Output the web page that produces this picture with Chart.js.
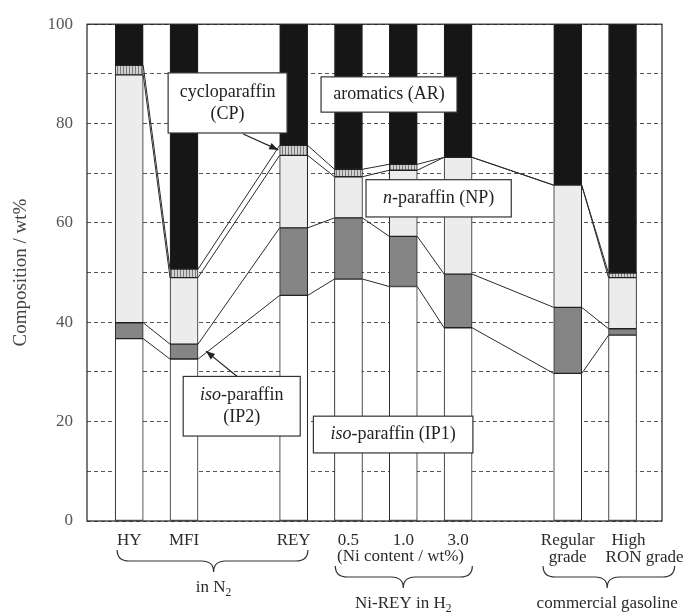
<!DOCTYPE html>
<html><head><meta charset="utf-8">
<script src="https://cdn.jsdelivr.net/npm/chart.js@4.4.0/dist/chart.umd.min.js"></script>
<style>html,body{margin:0;padding:0;background:#fff;}#wrap{width:690px;height:615px;position:relative;}</style>
</head><body><div id="wrap"><canvas id="c" width="690" height="615"></canvas></div>
<script>
// ---- data ----
const slots = ['HY','MFI','','REY','0.5','1.0','3.0','','Regular grade','High RON grade'];
const slotLines = [['HY'],['MFI'],[],['REY'],['0.5'],['1.0'],['3.0'],[],['Regular','grade'],['High','RON grade']];
const IP1 = [36.7, 32.6, null, 45.4, 48.7, 47.2, 38.9, null, 29.7, 37.4];
const IP2 = [3.2, 3.0, null, 13.6, 12.3, 10.1, 10.8, null, 13.3, 1.3];
const NP  = [49.9, 13.4, null, 14.6, 8.3, 13.3, 23.5, null, 24.6, 10.3];
const CP  = [1.9, 1.7, null, 2.0, 1.5, 1.2, 0, null, 0, 0.9];
const AR  = [8.3, 49.3, null, 24.4, 29.2, 28.2, 26.8, null, 32.4, 50.1];
const yTickLabels = [0, 20, 40, 60, 80, 100];
const seriesNames = ['iso-paraffin (IP1)','iso-paraffin (IP2)','n-paraffin (NP)','cycloparaffin (CP)','aromatics (AR)'];
const groups = [
  {from: -0.22, to: 3.26, tip: 1.54, text: [['in N', false], ['2', 'sub']]},
  {from: 3.76, to: 6.26, tip: 5.0, text: [['Ni-REY in H', false], ['2', 'sub']], note: '(Ni content / wt%)'},
  {from: 7.55, to: 9.95, tip: 8.72, text: [['commercial gasoline', false]]}
];
// annotation boxes in data units
const boxes = [
  {x1: 0.71, x2: 2.88, y1: 90.2, y2: 78.1, lines: [[['cycloparaffin', false]], [['(CP)', false]]], arrow: [2.08, 77.9, 2.72, 74.7]},
  {x1: 3.50, x2: 5.98, y1: 89.4, y2: 82.3, lines: [[['aromatics (AR)', false]]]},
  {x1: 4.32, x2: 6.97, y1: 68.7, y2: 61.2, lines: [[['n', true], ['-paraffin (NP)', false]]]},
  {x1: 0.985, x2: 3.12, y1: 29.1, y2: 17.1, lines: [[['iso', true], ['-paraffin', false]], [['(IP2)', false]]], arrow: [1.97, 29.1, 1.40, 34.2]},
  {x1: 3.36, x2: 6.27, y1: 21.1, y2: 13.7, lines: [[['iso', true], ['-paraffin (IP1)', false]]]}
];

const SERIF = '"Liberation Serif", "DejaVu Serif", serif';
function mkPattern() {
  const c = document.createElement('canvas'); c.width = 3; c.height = 4;
  const g = c.getContext('2d');
  g.fillStyle = '#d0d0d0'; g.fillRect(0,0,3,4);
  g.fillStyle = '#7a7a7a'; g.fillRect(0,0,1,4);
  return document.getElementById('c').getContext('2d').createPattern(c, 'repeat');
}
const cpFill = mkPattern();
const fills = ['#ffffff', '#858585', '#ececec', cpFill, '#161616'];
const series = [IP1, IP2, NP, CP, AR];

const datasets = series.map((arr, k) => ({
  label: seriesNames[k],
  data: arr.map((v, i) => ({x: i, y: v})),
  backgroundColor: fills[k],
  borderColor: '#222',
  borderWidth: 1,
  borderSkipped: false,
  barThickness: 28
}));

function richText(ctx, parts, cx, cy, size, align) {
  let w = 0;
  const segs = parts.map(([t, st]) => {
    const fs = st === 'sub' ? size * 0.68 : size;
    const f = (st === true ? 'italic ' : '') + fs + 'px ' + SERIF;
    ctx.font = f; const mw = ctx.measureText(t).width; w += mw;
    return {t, f, mw, dy: st === 'sub' ? size * 0.3 : 0};
  });
  let x = align === 'left' ? cx : cx - w / 2;
  ctx.textAlign = 'left'; ctx.textBaseline = 'middle';
  segs.forEach(s => { ctx.font = s.f; ctx.fillText(s.t, x, cy + s.dy); x += s.mw; });
}

function brace(ctx, x1, x2, xm, y, h) {
  const m = y + h * 0.5, r = 12;
  ctx.beginPath();
  ctx.moveTo(x1, y);
  ctx.quadraticCurveTo(x1, m, x1 + r, m);
  ctx.lineTo(xm - r, m);
  ctx.quadraticCurveTo(xm, m, xm, y + h);
  ctx.quadraticCurveTo(xm, m, xm + r, m);
  ctx.lineTo(x2 - r, m);
  ctx.quadraticCurveTo(x2, m, x2, y);
  ctx.stroke();
}

const overlay = {
  id: 'overlay',
  afterDatasetsDraw(chart) {
    const ctx = chart.ctx, xs = chart.scales.x, ys = chart.scales.y, ca = chart.chartArea;
    const meta0 = chart.getDatasetMeta(0);
    ctx.save();
    const present = slots.map((s, i) => i).filter(i => IP1[i] !== null);
    ctx.strokeStyle = '#2a2a2a'; ctx.lineWidth = 1;
    for (let p = 0; p < present.length - 1; p++) {
      const i = present[p], j = present[p + 1];
      const ei = meta0.data[i], ej = meta0.data[j];
      const xa = ei.x + ei.width / 2, xb = ej.x - ej.width / 2;
      let ci = 0, cj = 0;
      for (let k = 0; k < 4; k++) {
        ci += series[k][i]; cj += series[k][j];
        ctx.beginPath();
        ctx.moveTo(xa, ys.getPixelForValue(ci));
        ctx.lineTo(xb, ys.getPixelForValue(cj));
        ctx.stroke();
      }
    }
    ctx.strokeStyle = '#222'; ctx.lineWidth = 1.2;
    ctx.strokeRect(ca.left, ca.top, ca.right - ca.left, ca.bottom - ca.top);
    boxes.forEach(b => {
      const x1 = xs.getPixelForValue(b.x1), x2 = xs.getPixelForValue(b.x2);
      const y1 = ys.getPixelForValue(b.y1), y2 = ys.getPixelForValue(b.y2);
      ctx.fillStyle = '#fff'; ctx.fillRect(x1, y1, x2 - x1, y2 - y1);
      ctx.strokeStyle = '#333'; ctx.lineWidth = 1.2; ctx.strokeRect(x1, y1, x2 - x1, y2 - y1);
      ctx.fillStyle = '#222';
      const n = b.lines.length, lh = 22, cy = (y1 + y2) / 2;
      b.lines.forEach((ln, li) => richText(ctx, ln, (x1 + x2) / 2, cy + (li - (n - 1) / 2) * lh, 18));
      if (b.arrow) {
        const ax = xs.getPixelForValue(b.arrow[0]), ay = ys.getPixelForValue(b.arrow[1]);
        const bx = xs.getPixelForValue(b.arrow[2]), by = ys.getPixelForValue(b.arrow[3]);
        ctx.strokeStyle = '#222'; ctx.lineWidth = 1.2;
        ctx.beginPath(); ctx.moveTo(ax, ay); ctx.lineTo(bx, by); ctx.stroke();
        const ang = Math.atan2(by - ay, bx - ax), L = 9, W = 3.5;
        ctx.beginPath();
        ctx.moveTo(bx, by);
        ctx.lineTo(bx - L * Math.cos(ang) + W * Math.sin(ang), by - L * Math.sin(ang) - W * Math.cos(ang));
        ctx.lineTo(bx - L * Math.cos(ang) - W * Math.sin(ang), by - L * Math.sin(ang) + W * Math.cos(ang));
        ctx.closePath(); ctx.fill();
      }
    });
    ctx.restore();
  },
  afterDraw(chart) {
    const ctx = chart.ctx, xs = chart.scales.x, ca = chart.chartArea;
    ctx.save();
    ctx.fillStyle = '#2a2a2a';
    slotLines.forEach((lines, i) => {
      const cx = xs.getPixelForValue(i);
      lines.forEach((t, li) => {
        let dx = 0;
        if (lines.length === 2 && li === 1 && i === 9) dx = 22;
        if (lines.length === 2 && li === 0 && i === 9) dx = 6;
        richText(ctx, [[t, false]], cx + dx, ca.bottom + 20 + li * 17, 17);
      });
    });
    ctx.strokeStyle = '#333'; ctx.lineWidth = 1.2;
    groups.forEach((g, gi) => {
      const x1 = xs.getPixelForValue(g.from), x2 = xs.getPixelForValue(g.to);
      const xm = xs.getPixelForValue(g.tip);
      const yTop = gi === 0 ? ca.bottom + 29 : ca.bottom + 45;
      if (g.note) richText(ctx, [[g.note, false]], xs.getPixelForValue(4.95), ca.bottom + 36, 17);
      brace(ctx, x1, x2, xm, yTop, 22);
      richText(ctx, g.text, xm, yTop + 38, 17);
    });
    ctx.restore();
  }
};

new Chart(document.getElementById('c'), {
  type: 'bar',
  data: { datasets },
  options: {
    responsive: false,
    animation: false,
    layout: { padding: { left: 0, top: 19, right: 28, bottom: 0 } },
    plugins: { legend: { display: false }, tooltip: { enabled: false } },
    scales: {
      x: {
        type: 'linear', stacked: true, min: -0.77, max: 9.72, offset: false,
        grid: { display: false }, border: { display: false },
        ticks: { display: false },
        afterFit: s => { s.height = 94; }
      },
      y: {
        stacked: true, min: 0, max: 100,
        ticks: {
          stepSize: 10, padding: 14, color: '#555',
          font: { family: SERIF, size: 17 },
          callback: v => yTickLabels.includes(v) ? String(v) : ''
        },
        grid: { drawTicks: false, color: '#555', lineWidth: 1 },
        border: { display: false, dash: [4, 3] },
        title: { display: true, text: 'Composition / wt%', color: '#444', font: { family: SERIF, size: 19 }, padding: { top: 10, bottom: 4 } },
        afterFit: s => { s.width = 87; }
      }
    }
  },
  plugins: [overlay]
});
</script>
</body></html>
